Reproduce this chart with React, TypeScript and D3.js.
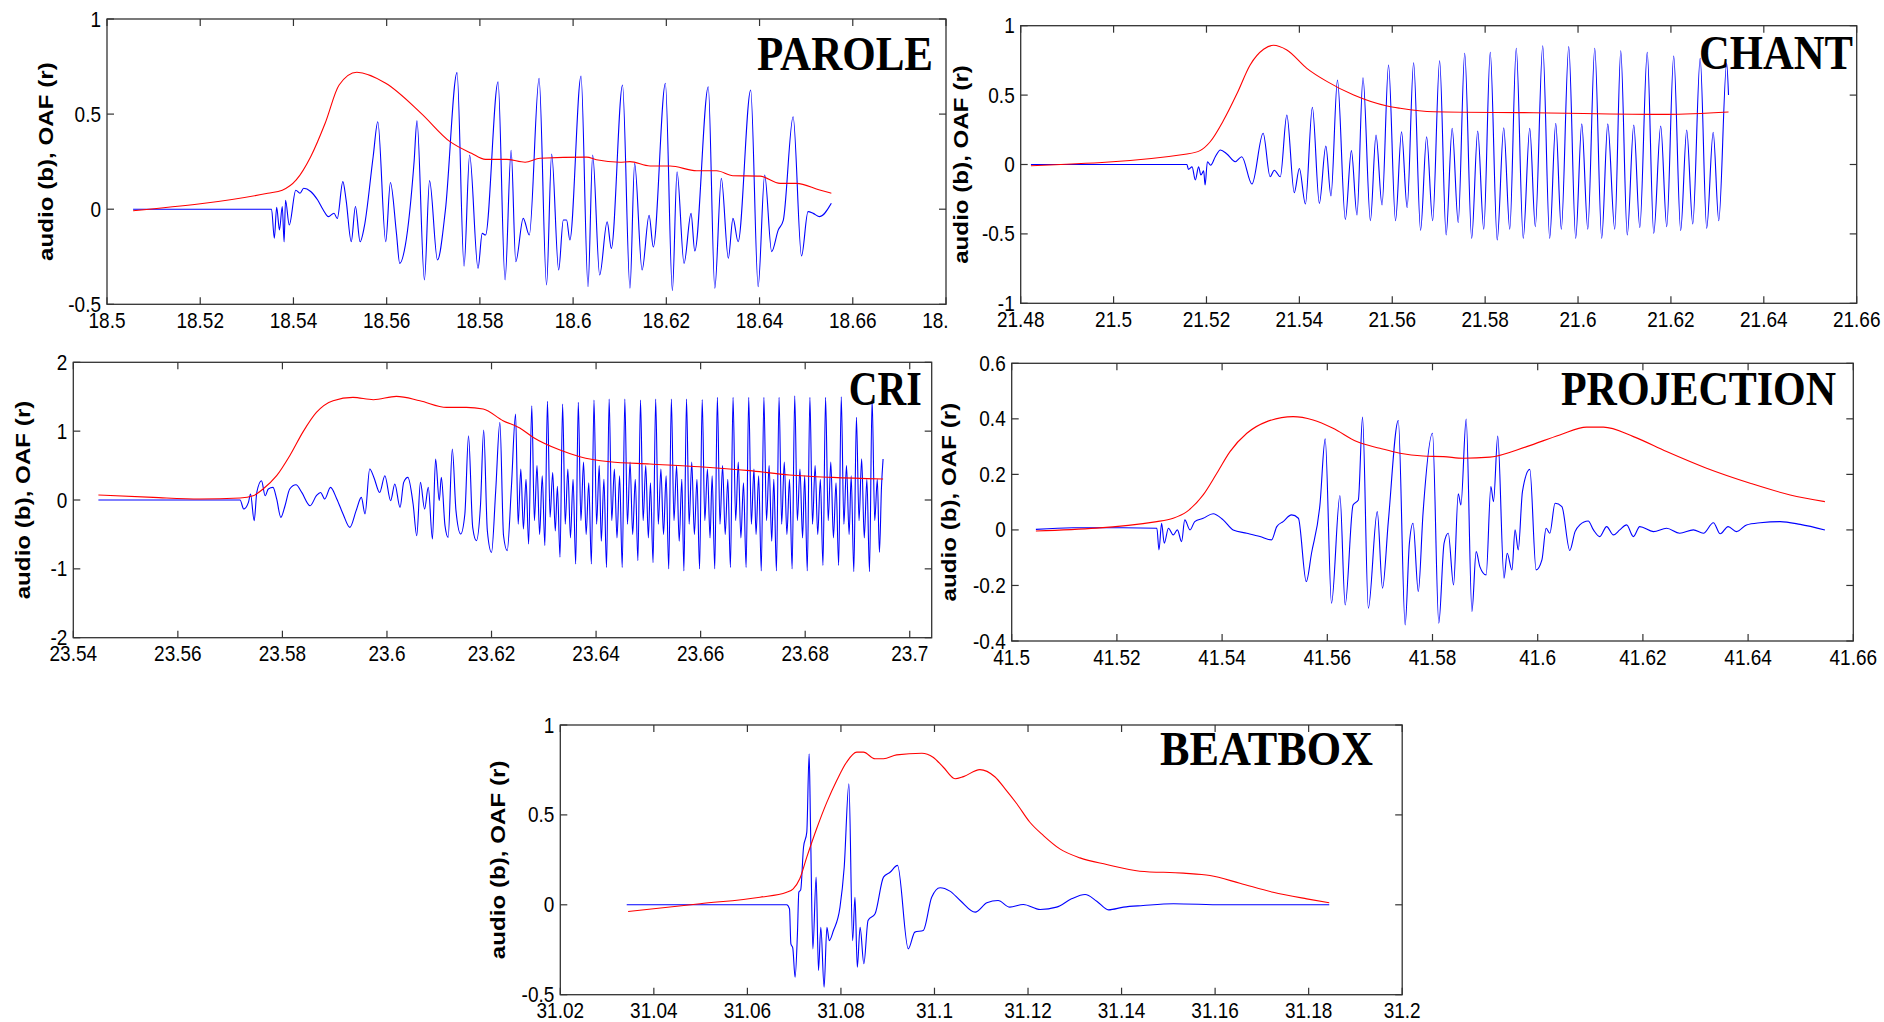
import React from 'react';
import * as d3 from 'd3';

type Pt = [number, number];

// ---------------- PAROLE ----------------
const paroleAudio: Pt[] = [
  [18.5056, 0], [18.5353, 0], [18.5359, -0.153], [18.5364, 0.01], [18.537, -0.109], [18.5376, 0.014], [18.538, -0.172],
  [18.5383, 0.047], [18.5391, -0.083], [18.5405, 0.1], [18.5414, 0.084], [18.5422, 0.11], [18.5437, 0.093], [18.5452, 0.048],
  [18.5464, -0.004], [18.5475, -0.039], [18.5487, -0.021], [18.5494, -0.049], [18.5506, 0.145], [18.5513, 0.048], [18.5524, -0.171],
  [18.5533, 0.014], [18.5543, -0.171], [18.5552, -0.092], [18.5571, 0.276], [18.5581, 0.46], [18.5598, -0.171], [18.5608, 0.14],
  [18.5621, -0.127], [18.5628, -0.285], [18.564, -0.19], [18.5659, 0.255], [18.5665, 0.465], [18.5681, -0.372], [18.5692, 0.15],
  [18.5709, -0.267], [18.5726, -0.005], [18.5751, 0.718], [18.5766, -0.3], [18.5778, 0.285], [18.5796, -0.311], [18.5805, -0.127],
  [18.5812, -0.136], [18.5839, 0.67], [18.5854, -0.372], [18.5867, 0.31], [18.5877, -0.276], [18.5893, -0.048], [18.5906, -0.136],
  [18.5927, 0.688], [18.5943, -0.398], [18.5954, 0.29], [18.5969, -0.32], [18.5979, -0.057], [18.5986, -0.057], [18.5993, -0.162],
  [18.6017, 0.7], [18.6032, -0.407], [18.6042, 0.285], [18.6057, -0.346], [18.6073, -0.066], [18.6082, -0.206], [18.6106, 0.653],
  [18.6122, -0.416], [18.6132, 0.241], [18.6148, -0.32], [18.6163, -0.032], [18.6172, -0.199], [18.6198, 0.662], [18.6213, -0.428],
  [18.6223, 0.197], [18.6238, -0.285], [18.6253, -0.022], [18.6261, -0.22], [18.629, 0.644], [18.6304, -0.416], [18.6318, 0.162],
  [18.6333, -0.258], [18.6343, -0.048], [18.6354, -0.171], [18.6381, 0.627], [18.6397, -0.407], [18.6411, 0.18], [18.6426, -0.223],
  [18.644, -0.11], [18.6451, -0.057], [18.6472, 0.486], [18.649, -0.246], [18.6504, -0.013], [18.6515, -0.022], [18.6529, -0.039],
  [18.6554, 0.031],
];
const paroleOAF: Pt[] = [
  [18.5056, -0.008], [18.5345, 0.084], [18.5376, 0.1], [18.5406, 0.154], [18.5437, 0.276], [18.5468, 0.452], [18.5498, 0.653],
  [18.5536, 0.72], [18.5598, 0.662], [18.5674, 0.504], [18.5736, 0.355], [18.5782, 0.294], [18.5812, 0.262], [18.5858, 0.262],
  [18.5897, 0.247], [18.5929, 0.268], [18.6029, 0.274], [18.605, 0.26], [18.61, 0.247], [18.6122, 0.25], [18.6165, 0.227],
  [18.6208, 0.227], [18.6265, 0.202], [18.6308, 0.202], [18.6343, 0.176], [18.6401, 0.174], [18.6444, 0.136], [18.6479, 0.136],
  [18.6529, 0.101], [18.6554, 0.084],
];
const paroleXTicks = [18.5, 18.52, 18.54, 18.56, 18.58, 18.6, 18.62, 18.64, 18.66, 18.68];
const paroleXLabels = ['18.5', '18.52', '18.54', '18.56', '18.58', '18.6', '18.62', '18.64', '18.66', '18.68'];
const paroleYTicks = [-0.5, 0, 0.5, 1];
const paroleYLabels = ['-0.5', '0', '0.5', '1'];

// ---------------- CHANT ----------------
const chantAudio: Pt[] = [
  [21.4822, 0], [21.5158, 0], [21.5161, -0.035], [21.5169, -0.017], [21.5176, -0.112], [21.5183, -0.017], [21.5188, -0.076],
  [21.5194, -0.046], [21.5197, -0.148], [21.5202, 0.02], [21.5209, -0.005], [21.5219, 0.056], [21.523, 0.104], [21.5244, 0.076],
  [21.5262, 0.02], [21.5276, 0.056], [21.5298, -0.141], [21.5322, 0.225], [21.5337, -0.088], [21.5346, -0.041], [21.5359, -0.088],
  [21.5373, 0.357], [21.5389, -0.203], [21.54, -0.029], [21.5413, -0.285], [21.5428, 0.412], [21.5443, -0.28], [21.5457, 0.133],
  [21.5468, -0.227], [21.5482, 0.609], [21.5499, -0.395], [21.5512, 0.1], [21.5524, -0.364], [21.5537, 0.625], [21.5553, -0.405],
  [21.5565, 0.213], [21.5578, -0.292], [21.5592, 0.717], [21.5607, -0.405], [21.562, 0.236], [21.5632, -0.31], [21.5646, 0.733],
  [21.5661, -0.475], [21.5674, 0.2], [21.5687, -0.405], [21.5702, 0.748], [21.5716, -0.508], [21.5729, 0.261], [21.5742, -0.419],
  [21.5756, 0.801], [21.5771, -0.532], [21.5784, 0.241], [21.5797, -0.467], [21.5811, 0.808], [21.5826, -0.544], [21.584, 0.265],
  [21.5853, -0.467], [21.5867, 0.837], [21.5882, -0.532], [21.5896, 0.261], [21.5908, -0.448], [21.5924, 0.856], [21.5939, -0.532],
  [21.5952, 0.297], [21.5964, -0.467], [21.598, 0.849], [21.5995, -0.532], [21.6008, 0.293], [21.6021, -0.467], [21.6036, 0.837],
  [21.6051, -0.532], [21.6064, 0.293], [21.6079, -0.467], [21.6092, 0.82], [21.6106, -0.508], [21.612, 0.285], [21.6133, -0.455],
  [21.6149, 0.808], [21.6163, -0.496], [21.6178, 0.277], [21.6191, -0.448], [21.6206, 0.782], [21.6221, -0.477], [21.6234, 0.249],
  [21.6247, -0.429], [21.6263, 0.765], [21.6277, -0.46], [21.6291, 0.232], [21.6303, -0.405], [21.632, 0.729], [21.6324, 0.5],
];
const chantOAF: Pt[] = [
  [21.4822, -0.009], [21.5158, 0.076], [21.5186, 0.1], [21.5208, 0.164], [21.5237, 0.32], [21.5266, 0.513], [21.5294, 0.717],
  [21.5323, 0.83], [21.5344, 0.859], [21.5373, 0.825], [21.5416, 0.693], [21.546, 0.597], [21.5517, 0.5], [21.5589, 0.421],
  [21.5617, 0.405], [21.5689, 0.38], [21.5905, 0.373], [21.6192, 0.361], [21.6324, 0.378],
];
const chantXTicks = [21.48, 21.5, 21.52, 21.54, 21.56, 21.58, 21.6, 21.62, 21.64, 21.66];
const chantXLabels = ['21.48', '21.5', '21.52', '21.54', '21.56', '21.58', '21.6', '21.62', '21.64', '21.66'];
const chantYTicks = [-1, -0.5, 0, 0.5, 1];
const chantYLabels = ['-1', '-0.5', '0', '0.5', '1'];

// ---------------- CRI ----------------
const criAudio: Pt[] = [
  [23.5448, 0], [23.5719, 0], [23.5726, -0.131], [23.5735, -0.035], [23.5739, 0.087], [23.5746, -0.301], [23.5751, 0.11],
  [23.576, 0.28], [23.5767, 0.062], [23.5773, 0.16], [23.5782, 0.183], [23.5789, 0.015], [23.5797, -0.253], [23.5805, -0.083],
  [23.5814, 0.16], [23.5826, 0.222], [23.5837, 0.11], [23.5853, -0.083], [23.5865, 0.062], [23.5873, 0.11], [23.5881, 0.015],
  [23.5892, 0.183], [23.5904, 0.015], [23.5916, -0.203], [23.5929, -0.398], [23.5941, -0.155], [23.5951, 0.038], [23.5958, -0.203],
  [23.5967, 0.45], [23.5975, 0.328], [23.5986, 0.11], [23.5996, 0.353], [23.6007, -0.01], [23.6015, 0.232], [23.6025, -0.107],
  [23.6032, 0.256], [23.604, 0.328], [23.605, -0.058], [23.6057, -0.519], [23.6064, 0.256], [23.6072, -0.131], [23.6079, 0.183],
  [23.6087, -0.566], [23.6093, 0.596], [23.61, -0.01], [23.6104, 0.328], [23.6111, -0.373], [23.6117, -0.543], [23.6125, 0.741],
  [23.6132, -0.155], [23.6141, -0.494], [23.6149, -0.203], [23.6156, 0.934], [23.6164, -0.398], [23.6171, -0.591], [23.6179, -0.058],
  [23.6185, 1.017], [23.6192, -0.446], [23.62, -0.761], [23.6208, 0.135], [23.6216, 1.127], [23.6223, -0.519], [23.623, -0.736],
  [23.6238, 0.183], [23.6246, 1.249],
  [23.6251, -0.35], [23.6256, 0.45], [23.6261, -0.42], [23.6266, 0.3], [23.6271, -0.64], [23.6277, 1.37],
  [23.6282, -0.3], [23.6287, 0.5], [23.6292, -0.5], [23.6297, 0.35], [23.6302, -0.66], [23.6307, 1.432],
  [23.6312, -0.25], [23.6317, 0.4], [23.6322, -0.45], [23.6326, 0.2], [23.6331, -0.83], [23.6336, 1.394],
  [23.6341, -0.35], [23.6346, 0.45], [23.6351, -0.55], [23.6356, 0.3], [23.6361, -0.93], [23.6366, 1.418],
  [23.6371, -0.3], [23.6376, 0.55], [23.6381, -0.5], [23.6386, 0.25], [23.6391, -0.93], [23.6396, 1.452],
  [23.6401, -0.35], [23.6406, 0.5], [23.641, -0.6], [23.6415, 0.3], [23.642, -0.98], [23.6425, 1.467],
  [23.643, -0.3], [23.6435, 0.45], [23.644, -0.55], [23.6445, 0.35], [23.645, -0.98], [23.6455, 1.467],
  [23.646, -0.35], [23.6465, 0.55], [23.647, -0.5], [23.6475, 0.3], [23.648, -0.88], [23.6485, 1.452],
  [23.649, -0.3], [23.6495, 0.5], [23.65, -0.55], [23.6504, 0.25], [23.6509, -0.91], [23.6514, 1.467],
  [23.6519, -0.35], [23.6524, 0.45], [23.6529, -0.5], [23.6534, 0.35], [23.6539, -1.0], [23.6544, 1.467],
  [23.6549, -0.3], [23.6554, 0.5], [23.6559, -0.6], [23.6564, 0.3], [23.6568, -1.03], [23.6573, 1.467],
  [23.6578, -0.35], [23.6583, 0.55], [23.6588, -0.5], [23.6593, 0.3], [23.6598, -1.0], [23.6603, 1.46],
  [23.6608, -0.3], [23.6613, 0.45], [23.6618, -0.55], [23.6622, 0.35], [23.6627, -1.0], [23.6632, 1.49],
  [23.6637, -0.35], [23.6642, 0.5], [23.6647, -0.5], [23.6652, 0.3], [23.6657, -0.98], [23.6662, 1.49],
  [23.6667, -0.3], [23.6672, 0.55], [23.6677, -0.55], [23.6682, 0.25], [23.6687, -0.98], [23.6692, 1.49],
  [23.6697, -0.35], [23.6702, 0.45], [23.6706, -0.5], [23.6711, 0.35], [23.6716, -1.03], [23.6721, 1.49],
  [23.6726, -0.3], [23.6731, 0.5], [23.6736, -0.6], [23.674, 0.3], [23.6745, -1.03], [23.675, 1.49],
  [23.6755, -0.35], [23.676, 0.55], [23.6765, -0.5], [23.677, 0.3], [23.6775, -1.0], [23.678, 1.515],
  [23.6785, -0.3], [23.679, 0.45], [23.6795, -0.55], [23.6799, 0.35], [23.6804, -1.03], [23.6809, 1.49],
  [23.6814, -0.35], [23.6819, 0.5], [23.6824, -0.5], [23.6829, 0.3], [23.6834, -0.95], [23.6839, 1.49],
  [23.6844, -0.3], [23.6849, 0.55], [23.6854, -0.55], [23.6859, 0.25], [23.6864, -0.95], [23.6869, 1.5],
  [23.6874, -0.35], [23.6879, 0.5], [23.6884, -0.5], [23.6888, 0.35], [23.6893, -1.04], [23.6898, 1.2],
  [23.6903, -0.3], [23.6908, 0.6], [23.6913, -0.55], [23.6918, 0.3], [23.6923, -1.04], [23.6928, 1.467],
  [23.6933, -0.3], [23.6938, 0.3], [23.6942, -0.76], [23.6946, 0.2], [23.6949, 0.596],
];
const criOAF: Pt[] = [
  [23.5448, 0.073], [23.5553, 0.038], [23.5642, 0.015], [23.5719, 0.029], [23.5744, 0.062], [23.5763, 0.16], [23.5789, 0.353],
  [23.5814, 0.643], [23.584, 0.997], [23.5865, 1.272], [23.5897, 1.442], [23.5935, 1.49], [23.5974, 1.457], [23.6018, 1.505],
  [23.6063, 1.442], [23.6114, 1.345], [23.6152, 1.345], [23.6184, 1.322], [23.6222, 1.152], [23.6254, 1.046], [23.628, 0.909],
  [23.6331, 0.726], [23.6369, 0.629], [23.6426, 0.556], [23.6503, 0.523], [23.6598, 0.484], [23.6694, 0.426], [23.677, 0.363],
  [23.6853, 0.328], [23.6949, 0.305],
];
const criXTicks = [23.54, 23.56, 23.58, 23.6, 23.62, 23.64, 23.66, 23.68, 23.7];
const criXLabels = ['23.54', '23.56', '23.58', '23.6', '23.62', '23.64', '23.66', '23.68', '23.7'];
const criYTicks = [-2, -1, 0, 1, 2];
const criYLabels = ['-2', '-1', '0', '1', '2'];

// ---------------- PROJECTION ----------------
const projAudio: Pt[] = [
  [41.5046, 0.002], [41.5117, 0.008], [41.5212, 0.008], [41.5276, 0.006], [41.528, -0.072], [41.5285, 0.024], [41.529, -0.048],
  [41.5298, 0.006], [41.5307, -0.018], [41.5315, 0], [41.5323, -0.042], [41.5329, 0.036], [41.5339, 0], [41.5348, 0.03],
  [41.5364, 0.042], [41.5383, 0.058], [41.5402, 0.036], [41.5421, 0], [41.5447, -0.012], [41.5472, -0.024], [41.5494, -0.036],
  [41.5504, 0.012], [41.5516, 0.03], [41.5532, 0.054], [41.5545, 0.042], [41.556, -0.186], [41.557, -0.084], [41.5586, 0.09],
  [41.5596, 0.328], [41.5608, -0.264], [41.5624, 0.124], [41.5634, -0.27], [41.5649, 0.09], [41.5659, 0.108], [41.5667, 0.406],
  [41.5678, -0.282], [41.5695, 0.066], [41.5705, -0.21], [41.5716, 0.03], [41.5735, 0.394], [41.5748, -0.342], [41.5756, -0.05],
  [41.5763, 0.024], [41.5773, -0.222], [41.5782, 0.06], [41.58, 0.348], [41.5812, -0.336], [41.5822, -0.048], [41.583, -0.012],
  [41.584, -0.198], [41.5849, 0.13], [41.5854, 0.09], [41.5864, 0.399], [41.5875, -0.294], [41.5883, -0.078], [41.589, -0.132],
  [41.5902, -0.162], [41.5911, 0.156], [41.5916, 0.102], [41.5924, 0.338], [41.5936, -0.174], [41.5942, -0.084], [41.5951, -0.144],
  [41.5957, 0], [41.5963, -0.072], [41.5971, 0.138], [41.5985, 0.218], [41.5997, -0.144], [41.6008, -0.108], [41.6016, 0.006],
  [41.6023, -0.012], [41.6033, 0.096], [41.6046, 0.084], [41.6061, -0.074], [41.6071, -0.006], [41.608, 0.018], [41.6096, 0.032],
  [41.6106, 0], [41.6118, -0.024], [41.6131, 0.012], [41.6144, -0.018], [41.6156, 0], [41.6169, 0.018], [41.6182, -0.024],
  [41.6194, 0.012], [41.622, -0.006], [41.6245, 0.006], [41.627, -0.012], [41.6296, 0], [41.6315, -0.012], [41.6334, 0.026],
  [41.6347, -0.014], [41.6362, 0.012], [41.6378, -0.006], [41.6397, 0.018], [41.6423, 0.026], [41.6461, 0.03], [41.6499, 0.02],
  [41.6546, 0],
];
const projOAF: Pt[] = [
  [41.5046, -0.004], [41.5276, 0.03], [41.5307, 0.042], [41.5333, 0.066], [41.5364, 0.126], [41.539, 0.204], [41.5415, 0.282],
  [41.5447, 0.348], [41.5485, 0.39], [41.5535, 0.408], [41.5573, 0.396], [41.5611, 0.366], [41.5656, 0.318], [41.57, 0.294],
  [41.5738, 0.276], [41.5782, 0.266], [41.5821, 0.264], [41.5859, 0.258], [41.5909, 0.262], [41.5979, 0.3], [41.6042, 0.342],
  [41.6093, 0.37], [41.6125, 0.37], [41.6182, 0.336], [41.6245, 0.282], [41.6321, 0.222], [41.6404, 0.168], [41.648, 0.126],
  [41.6546, 0.102],
];
const projXTicks = [41.5, 41.52, 41.54, 41.56, 41.58, 41.6, 41.62, 41.64, 41.66];
const projXLabels = ['41.5', '41.52', '41.54', '41.56', '41.58', '41.6', '41.62', '41.64', '41.66'];
const projYTicks = [-0.4, -0.2, 0, 0.2, 0.4, 0.6];
const projYLabels = ['-0.4', '-0.2', '0', '0.2', '0.4', '0.6'];

// ---------------- BEATBOX ----------------
const beatAudio: Pt[] = [
  [31.0342, 0], [31.0684, 0], [31.069, -0.022], [31.0693, -0.217], [31.0697, -0.24], [31.0702, -0.403], [31.0707, -0.161],
  [31.071, 0.07], [31.0714, 0.083], [31.072, 0.32], [31.0727, 0.404], [31.0732, 0.84], [31.0735, 0.432], [31.074, -0.245],
  [31.0747, 0.154], [31.0752, -0.365], [31.0757, -0.125], [31.0764, -0.458], [31.077, -0.125], [31.0775, -0.199], [31.0784, -0.143],
  [31.0798, -0.013], [31.0807, 0.209], [31.0817, 0.673], [31.0825, -0.199], [31.083, 0.042], [31.0835, -0.347], [31.0841, -0.125],
  [31.0849, -0.328], [31.0858, -0.087], [31.0873, -0.05], [31.0891, 0.154], [31.0905, 0.181], [31.0921, 0.219], [31.0944, -0.245],
  [31.0958, -0.152], [31.0976, -0.143], [31.0994, 0.042], [31.1012, 0.095], [31.1033, 0.076], [31.1055, 0.024], [31.1087, -0.041],
  [31.1112, 0.011], [31.1136, 0.024], [31.1161, -0.013], [31.119, 0.002], [31.1226, -0.026], [31.1261, -0.013], [31.1293, 0.033],
  [31.1322, 0.057], [31.1347, 0.02], [31.1372, -0.028], [31.1404, -0.013], [31.1446, -0.004], [31.1511, 0.006], [31.1617, 0],
  [31.1844, 0],
];
const beatOAF: Pt[] = [
  [31.0345, -0.037], [31.0499, 0.006], [31.0627, 0.042], [31.0684, 0.07], [31.0698, 0.089], [31.0712, 0.145], [31.0727, 0.265],
  [31.0748, 0.423], [31.077, 0.571], [31.0791, 0.691], [31.0812, 0.793], [31.0834, 0.849], [31.0848, 0.849], [31.0873, 0.812],
  [31.0891, 0.812], [31.0919, 0.834], [31.0973, 0.843], [31.0997, 0.821], [31.1019, 0.765], [31.1044, 0.701], [31.1062, 0.713],
  [31.1097, 0.752], [31.1129, 0.712], [31.1151, 0.645], [31.1176, 0.562], [31.1204, 0.459], [31.1233, 0.385], [31.1268, 0.311],
  [31.1311, 0.261], [31.1368, 0.224], [31.1439, 0.187], [31.1532, 0.176], [31.1589, 0.163], [31.1653, 0.12], [31.1724, 0.07],
  [31.1796, 0.033], [31.1844, 0.011],
];
const beatXTicks = [31.02, 31.04, 31.06, 31.08, 31.1, 31.12, 31.14, 31.16, 31.18, 31.2];
const beatXLabels = ['31.02', '31.04', '31.06', '31.08', '31.1', '31.12', '31.14', '31.16', '31.18', '31.2'];
const beatYTicks = [-0.5, 0, 0.5, 1];
const beatYLabels = ['-0.5', '0', '0.5', '1'];

const yAxisTitle = 'audio (b), OAF (r)';

interface PanelCfg {
  title: string;
  audio: Pt[];
  oaf: Pt[];
  xDomain: [number, number];
  yDomain: [number, number];
  xTicks: number[];
  xLabels: string[];
  yTicks: number[];
  yLabels: string[];
  l: number; r: number; t: number; b: number;
  yTitleX: number;
  titleRight: number; titleBase: number; titleWidth: number;
  clipRight?: number;
}

const panels: PanelCfg[] = [
  {
    title: 'PAROLE', audio: paroleAudio, oaf: paroleOAF, xDomain: [18.5, 18.68], yDomain: [-0.5, 1],
    xTicks: paroleXTicks, xLabels: paroleXLabels, yTicks: paroleYTicks, yLabels: paroleYLabels,
    l: 107, r: 946, t: 19, b: 304.3, yTitleX: 53, titleRight: 933, titleBase: 70, titleWidth: 176, clipRight: 948,
  },
  {
    title: 'CHANT', audio: chantAudio, oaf: chantOAF, xDomain: [21.48, 21.66], yDomain: [-1, 1],
    xTicks: chantXTicks, xLabels: chantXLabels, yTicks: chantYTicks, yLabels: chantYLabels,
    l: 1020.7, r: 1856.7, t: 25.7, b: 303.3, yTitleX: 968, titleRight: 1853, titleBase: 69, titleWidth: 154,
  },
  {
    title: 'CRI', audio: criAudio, oaf: criOAF, xDomain: [23.54, 23.7042], yDomain: [-2, 2],
    xTicks: criXTicks, xLabels: criXLabels, yTicks: criYTicks, yLabels: criYLabels,
    l: 73.3, r: 931.7, t: 362.3, b: 637.7, yTitleX: 29.5, titleRight: 921.7, titleBase: 405, titleWidth: 73,
  },
  {
    title: 'PROJECTION', audio: projAudio, oaf: projOAF, xDomain: [41.5, 41.66], yDomain: [-0.4, 0.6],
    xTicks: projXTicks, xLabels: projXLabels, yTicks: projYTicks, yLabels: projYLabels,
    l: 1011.7, r: 1853.3, t: 363.3, b: 641, yTitleX: 956, titleRight: 1836, titleBase: 405, titleWidth: 275,
  },
  {
    title: 'BEATBOX', audio: beatAudio, oaf: beatOAF, xDomain: [31.02, 31.2], yDomain: [-0.5, 1],
    xTicks: beatXTicks, xLabels: beatXLabels, yTicks: beatYTicks, yLabels: beatYLabels,
    l: 560.3, r: 1402.2, t: 725, b: 994.7, yTitleX: 504.5, titleRight: 1373, titleBase: 765, titleWidth: 213,
  },
];

const SANS = '"Liberation Sans", Arial, "DejaVu Sans", sans-serif';
const SERIF = '"Liberation Serif", "DejaVu Serif", serif';
const AXIS = '#333333';

function Panel({ cfg, id }: { cfg: PanelCfg; id: number }) {
  const { l, r, t, b } = cfg;
  const x = d3.scaleLinear().domain(cfg.xDomain).range([l, r]);
  const y = d3.scaleLinear().domain(cfg.yDomain).range([b, t]);
  const line = d3.line<Pt>().x((d) => x(d[0])).y((d) => y(d[1])).curve(d3.curveMonotoneX);
  const tl = 7;
  const clipId = `panelclip${id}`;
  return (
    <g clipPath={cfg.clipRight ? `url(#${clipId})` : undefined}>
      {cfg.clipRight ? (
        <defs>
          <clipPath id={clipId}>
            <rect x={0} y={0} width={cfg.clipRight} height={1022} />
          </clipPath>
        </defs>
      ) : null}
      <path d={line(cfg.audio) || ''} fill="none" stroke="#0000ff" strokeWidth={1.1} strokeLinejoin="round" />
      <path d={line(cfg.oaf) || ''} fill="none" stroke="#ff0000" strokeWidth={1.1} strokeLinejoin="round" />
      <rect x={l} y={t} width={r - l} height={b - t} fill="none" stroke={AXIS} strokeWidth={1.3} />
      {cfg.xTicks.map((v, i) => {
        const px = x(v);
        return (
          <g key={'x' + i}>
            <line x1={px} x2={px} y1={b} y2={b - tl} stroke={AXIS} strokeWidth={1.2} />
            <line x1={px} x2={px} y1={t} y2={t + tl} stroke={AXIS} strokeWidth={1.2} />
            <text transform={`translate(${px},${b + 23.5}) scale(1,1.12)`} textAnchor="middle"
              fontFamily={SANS} fontSize={19} fill="#000">{cfg.xLabels[i]}</text>
          </g>
        );
      })}
      {cfg.yTicks.map((v, i) => {
        const py = y(v);
        return (
          <g key={'y' + i}>
            <line x1={l} x2={l + tl} y1={py} y2={py} stroke={AXIS} strokeWidth={1.2} />
            <line x1={r} x2={r - tl} y1={py} y2={py} stroke={AXIS} strokeWidth={1.2} />
            <text transform={`translate(${l - 6},${py + 7.5}) scale(1,1.12)`} textAnchor="end"
              fontFamily={SANS} fontSize={19} fill="#000">{cfg.yLabels[i]}</text>
          </g>
        );
      })}
      <text transform={`translate(${cfg.yTitleX},${(t + b) / 2}) rotate(-90) scale(1.24,1)`} textAnchor="middle"
        fontFamily={SANS} fontWeight="bold" fontSize={19.5} fill="#000">{yAxisTitle}</text>
      <text x={cfg.titleRight} y={cfg.titleBase} textAnchor="end" textLength={cfg.titleWidth}
        lengthAdjust="spacingAndGlyphs" fontFamily={SERIF} fontWeight="bold" fontSize={49} fill="#000">{cfg.title}</text>
    </g>
  );
}

export default function App() {
  return (
    <svg width={1884} height={1022} viewBox="0 0 1884 1022" xmlns="http://www.w3.org/2000/svg"
      style={{ position: 'absolute', left: 0, top: 0, display: 'block', background: '#ffffff' }}>
      <rect x={0} y={0} width={1884} height={1022} fill="#ffffff" />
      {panels.map((p, i) => (
        <Panel key={i} cfg={p} id={i} />
      ))}
    </svg>
  );
}
